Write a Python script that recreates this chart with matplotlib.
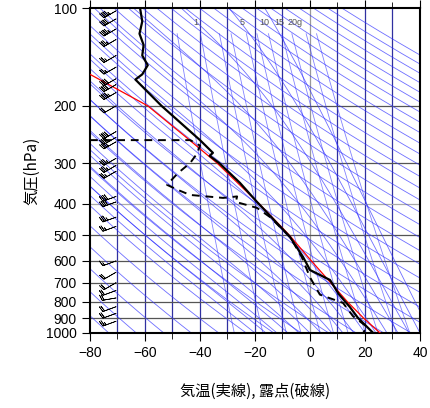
import numpy as np
import matplotlib
matplotlib.use("Agg")
import matplotlib.pyplot as plt

plt.rcParams['font.family'] = ['Liberation Sans', 'Noto Sans CJK JP', 'DejaVu Sans']

# Temperature profile (solid)
t_p = [100, 110, 120, 130, 140, 150, 160, 166, 200, 255, 279, 285, 300, 345, 395, 450, 506, 584, 640, 687, 760, 832, 900, 957, 1000]
t_t = [-61.8, -61, -62, -60.5, -61, -59, -61, -63.5, -54, -40, -35.3, -36.5, -33, -25.5, -19.3, -13, -7.3, -2.5, 0, 7.3, 10.5, 14.5, 17.5, 20.7, 23]
# Dewpoint profile (dashed)
d_p = [255, 255, 265, 280, 300, 322, 350, 363, 376, 384, 380, 395, 412, 440, 506, 584, 674, 762, 808, 887, 957, 1000]
d_t = [-80, -43.6, -40, -41, -43.6, -48, -52, -48, -43.6, -31.6, -26.5, -27, -19.3, -14.5, -7.3, -3, 0, 3.6, 12, 15.6, 20.7, 19.3]
# Red parcel curve
r_p = [160, 200, 250, 300, 400, 500, 600, 700, 800, 900, 1000]
r_t = [-80, -59, -45, -33.8, -18.5, -7.5, 0.5, 7.5, 13.5, 19.5, 25.5]
# Wind barbs (pressure, speed kt, direction deg)
w_p = [102, 108, 116, 125, 140, 152, 165, 172, 182, 200, 240, 250, 258, 290, 305, 318, 380, 395, 440, 470, 600, 650, 700, 740, 780, 830, 870, 920, 1000]
w_s = [45, 40, 45, 35, 25, 25, 40, 40, 45, 20, 40, 40, 35, 35, 35, 25, 40, 40, 35, 25, 15, 20, 20, 20, 20, 20, 20, 25, 10]
w_d = [240, 240, 240, 240, 240, 240, 240, 240, 240, 240, 240, 240, 240, 240, 240, 240, 250, 250, 250, 250, 250, 240, 240, 250, 260, 250, 250, 250, 230]
mr_labels = ['1', '5', '10', '15', '20g']
mr_label_t = [-41.5, -24.5, -16.5, -11, -5.5]

fig = plt.figure(figsize=(4.31, 4.08), dpi=100)
ax = fig.add_axes([90/431, 1-333/408, 330/431, 325/408])
ax.set_yscale('log')
ax.set_xlim(-80, 40)
ax.set_ylim(1000, 100)

P = np.logspace(2, 3, 200)
blue = '#3030ff'
for th in range(200, 560, 10):
    ax.plot(th*(P/1000)**0.286 - 273.15, P, color=blue, lw=0.6, alpha=0.7)

def es(T):
    return 6.112*np.exp(17.67*T/(T+243.5))
def moist(T0):
    ps = np.linspace(1000, 100, 400)
    Ts = [T0]
    T = T0 + 273.15
    for i in range(1, len(ps)):
        p = ps[i-1]; dp = ps[i]-ps[i-1]
        rs = 0.622*es(T-273.15)/(p-es(T-273.15))
        L = 2.5e6
        dTdp = (287*T + L*rs)/(1004 + L*L*rs*0.622/(287*T*T))/p
        T += dTdp*dp
        Ts.append(T-273.15)
    return np.array(Ts), ps
for T0 in range(-20, 45, 4):
    Ts, ps = moist(T0)
    ax.plot(Ts, ps, color=blue, lw=0.6, alpha=0.7)

Pm = np.logspace(np.log10(120), 3, 100)
for w in [0.4, 1, 2, 3, 5, 7, 10, 15, 20, 30, 40]:
    e = w*Pm/(622+w)
    l = np.log(e/6.112)
    ax.plot(243.5*l/(17.67-l), Pm, color=blue, lw=0.6, alpha=0.6)
for x, lab in zip(mr_label_t, mr_labels):
    ax.text(x, 111, lab, fontsize=6.5, color='#555555', ha='center', va='center')

for x in range(-70, 40, 10):
    ax.axvline(x, color='#3030a0' if x != 0 else '#999999', lw=0.9, zorder=1)
for p in range(200, 1001, 100):
    ax.axhline(p, color='#555555' if p not in (400, 1000) else '#aaaaaa', lw=0.9, zorder=1)

ax.plot(r_t, r_p, color='red', lw=0.9, zorder=3)
ax.plot(t_t, t_p, color='black', lw=1.6, zorder=4)
ax.plot(d_t, d_p, color='black', lw=1.4, ls=(0, (4, 3)), zorder=4)

wd = np.radians(w_d); ws = np.array(w_s)
u = -ws*np.sin(wd); v = -ws*np.cos(wd)
ax.barbs(np.full(len(w_p), -70.5), w_p, u, v, length=4.5, lw=0.5, zorder=5)

ax.set_yticks(list(range(100, 1001, 100)))
ax.set_yticklabels([str(p) for p in range(100, 1001, 100)])
ax.minorticks_off()
ax.set_xticks(range(-80, 41, 20))
ax.set_xticks(range(-70, 40, 20), minor=True)
ax.tick_params(axis='both', labelsize=10, direction='out', top=True, right=False, length=6)
ax.tick_params(axis='x', which='minor', length=4, top=True)
for s in ax.spines.values():
    s.set_linewidth(1.5)
ax.set_ylabel('気圧(hPa)', fontsize=11, family=['Noto Sans CJK JP'])
ax.set_xlabel('気温(実線), 露点(破線)', fontsize=11, labelpad=16, family=['Noto Sans CJK JP'])
fig.savefig('out.png', dpi=100)
